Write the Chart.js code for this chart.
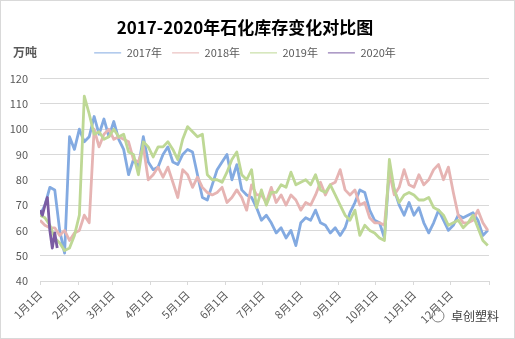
<!DOCTYPE html>
<html>
<head>
<meta charset="utf-8">
<script src="https://cdn.jsdelivr.net/npm/chart.js@4.4.0/dist/chart.umd.min.js"></script>
<style>
html,body{margin:0;padding:0;background:#fff;}
#wrap{width:513px;height:337px;border:1px solid #d9d9d9;}
</style>
</head>
<body>
<div id="wrap"><canvas id="stockChart" width="513" height="337"></canvas></div>
<script>
// day of year for each point (every 4 days), 2020 only covers early January
const days = [];
for (let d = 0; d <= 364; d += 4) days.push(d);
const days2020 = [0, 2, 4, 6, 8, 10, 12, 14];

const seriesNames = ['2017年', '2018年', '2019年', '2020年'];
const data2017 = [
  66,70,77,76,60,51,97,92,100,95,
  97,105,98,104,97,103,96,92,82,88,
  85,97,87,84,85,90,93,87,86,90,
  92,91,82,73,72,78,84,87,90,80,
  86,76,74,73,69,64,66,63,59,61,
  57,60,54,63,65,64,68,63,62,59,
  61,58,61,67,71,76,75,68,64,63,
  57,84,76,70,66,71,66,69,63,59,
  63,68,64,60,62,66,65,66,67,64,
  58,60];
const data2018 = [
  64,62,61,61,58,60,56,59,60,66,
  63,100,93,98,100,96,97,96,95,88,
  87,93,80,82,85,81,85,79,73,84,
  82,77,81,77,75,74,75,77,71,73,
  76,73,68,78,74,74,71,77,71,74,
  70,74,72,68,71,70,74,79,74,78,
  79,84,76,74,76,70,71,65,63,63,
  62,83,74,77,84,78,77,82,78,80,
  84,86,80,85,75,66,63,63,64,68,
  63,60];
const data2019 = [
  66,65,62,57,55,52,53,58,66,113,
  106,98,99,96,97,100,97,98,91,90,
  82,95,93,89,93,93,95,92,88,96,
  101,99,97,98,82,80,80,79,83,88,
  91,82,80,84,69,76,70,75,75,78,
  77,83,78,79,80,78,82,76,75,78,
  74,70,66,64,68,58,62,60,59,57,
  56,88,76,71,74,75,74,72,72,73,
  69,68,66,62,63,64,61,63,66,61,
  56,54];
const data2020 = [68, 66, 70, 73, 60, 53, 59, 53];

const monthDays = [0, 31, 59, 90, 120, 151, 181, 212, 243, 273, 304, 334];
const monthLabels = ['1月1日','2月1日','3月1日','4月1日','5月1日','6月1日',
  '7月1日','8月1日','9月1日','10月1日','11月1日','12月1日'];
const yTicks = [40, 50, 60, 70, 80, 90, 100, 110, 120];

const colors = ['#83AAE1', '#E6B4B3', '#BED895', '#7B5CA3'];
const FONT = '"Noto Sans CJK SC", "Microsoft YaHei", sans-serif';

function pts(xs, ys) {
  return ys.map((v, i) => ({x: xs[i], y: v}));
}

const extraText = {
  id: 'extraText',
  afterDraw(chart) {
    const c = chart.ctx;
    c.save();
    c.fillStyle = '#595959';
    c.font = 'bold 12px ' + FONT;
    c.textAlign = 'center';
    c.textBaseline = 'middle';
    c.fillText('万吨', 24, 51);
    c.fillStyle = '#404040';
    c.font = '12px ' + FONT;
    c.fillText('卓创塑料', 474, 315);
    c.strokeStyle = '#808080';
    c.lineWidth = 1;
    c.beginPath();
    c.arc(437, 315, 6, 0, Math.PI * 2);
    c.stroke();
    c.restore();
  }
};

const ctx = document.getElementById('stockChart');
new Chart(ctx, {
  type: 'line',
  data: {
    datasets: [
      {label: seriesNames[0], data: pts(days, data2017), borderColor: colors[0], backgroundColor: colors[0], order: 4},
      {label: seriesNames[1], data: pts(days, data2018), borderColor: colors[1], backgroundColor: colors[1], order: 3},
      {label: seriesNames[2], data: pts(days, data2019), borderColor: colors[2], backgroundColor: colors[2], order: 2},
      {label: seriesNames[3], data: pts(days2020, data2020), borderColor: colors[3], backgroundColor: colors[3], order: 1}
    ]
  },
  options: {
    responsive: false,
    animation: false,
    layout: {padding: {left: 0, right: 25, top: 0, bottom: 0}},
    elements: {
      line: {borderWidth: 2.8, tension: 0, borderJoinStyle: 'round'},
      point: {radius: 0, hoverRadius: 0}
    },
    plugins: {
      title: {
        display: true,
        text: '2017-2020年石化库存变化对比图',
        color: '#000',
        font: {family: FONT, size: 17, weight: 'bold'},
        padding: {top: 16, bottom: 0}
      },
      legend: {
        display: true,
        labels: {
          usePointStyle: true,
          pointStyle: 'line',
          pointStyleWidth: 27,
          color: '#595959',
          font: {family: FONT, size: 11},
          padding: 10,
          sort: (a, b) => a.datasetIndex - b.datasetIndex
        }
      },
      tooltip: {enabled: false}
    },
    scales: {
      x: {
        type: 'linear',
        min: 0,
        max: 365,
        afterBuildTicks: (axis) => {
          axis.ticks = monthDays.concat([365]).map(v => ({value: v}));
        },
        afterFit: (scale) => { scale.height = 57; },
        grid: {display: true, drawOnChartArea: false, drawTicks: true, tickLength: 4, color: '#d9d9d9'},
        border: {display: true, color: '#d9d9d9'},
        ticks: {
          autoSkip: false,
          minRotation: 45,
          maxRotation: 45,
          padding: 3,
          color: '#595959',
          font: {family: FONT, size: 11},
          callback: (value) => {
            const i = monthDays.indexOf(value);
            return i >= 0 ? monthLabels[i] : '';
          }
        }
      },
      y: {
        min: 40,
        max: 124,
        afterBuildTicks: (axis) => {
          axis.ticks = yTicks.map(v => ({value: v}));
        },
        afterFit: (scale) => { scale.width = 39; },
        grid: {color: '#d9d9d9', drawTicks: false},
        border: {display: false},
        ticks: {
          padding: 12,
          color: '#595959',
          font: {family: FONT, size: 11}
        }
      }
    }
  },
  plugins: [extraText]
});
</script>
</body>
</html>
